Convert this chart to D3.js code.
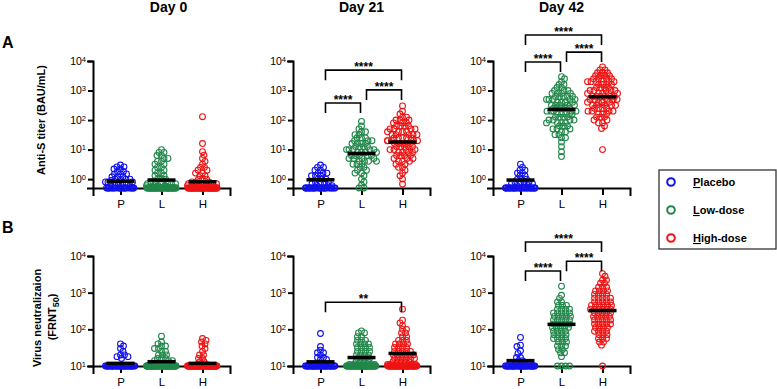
<!DOCTYPE html>
<html lang="en">
<head>
<meta charset="UTF-8">
<script src="https://cdn.jsdelivr.net/npm/d3@7"></script>
<title>Anti-S titer and virus neutralization</title>
<style>
  body { margin: 0; background: #fff; }
  text { font-family: Arial, "Liberation Sans", sans-serif; fill: #000; }
</style>
</head>
<body>
<script>
    var days = ["Day 0", "Day 21", "Day 42"];
    var groups = ["P", "L", "H"];
    var groupNames = ["Placebo", "Low-dose", "High-dose"];
    var colors = ["#1212ee", "#22874a", "#ee1414"];
    var ticksA = [1, 10, 100, 1000, 10000];
    var ticksB = [10, 100, 1000, 10000];

    // anti-S titer (BAU/mL): [titer, number of subjects]
    var a0P = [[3.0,1],[2.6,2],[2.2,2],[1.8,2],[1.5,3],[1.2,3],[1.0,3],[0.9,2],[0.8,3],[0.7,3],[0.6,3],[0.5,22]];
    var a0L = [[10,1],[8,2],[6.3,2],[5,2],[4,2],[3.2,2],[2.5,2],[2.0,2],[1.6,2],[1.3,2],[1.0,3],[0.8,3],[0.7,4],[0.6,5],[0.5,45]];
    var a0H = [[130,1],[16,1],[8.5,1],[6.5,1],[5,1],[4,1],[3.2,1],[2.5,2],[2.0,2],[1.6,2],[1.3,2],[1.0,3],[0.8,3],[0.7,4],[0.6,5],[0.5,50]];
    var a21P = [[3.0,1],[2.5,2],[2.0,2],[1.6,3],[1.3,3],[1.0,3],[0.8,2],[0.7,3],[0.6,3],[0.5,25]];
    var a21L = [[90,1],[63,1],[50,1],[40,2],[32,2],[25,3],[20,3],[16,4],[12.6,4],[10,5],[8,5],[6.3,5],[5,4],[4,4],[3.2,3],[2.5,2],[2,2],[1.6,2],[1.3,1],[1,1],[0.8,1],[0.63,1],[0.5,2]];
    var a21H = [[300,1],[200,1],[160,1],[126,2],[100,3],[80,3],[63,4],[50,4],[40,4],[32,5],[25,5],[20,5],[16,5],[12.6,5],[10,4],[8,4],[6.3,4],[5,3],[4,3],[3.2,2],[2.5,2],[2,1],[1.6,1],[1.3,1],[1,1],[0.68,1]];
    var a42P = [[3.2,1],[2.5,1],[2.0,2],[1.6,2],[1.3,2],[1.0,3],[0.8,3],[0.7,3],[0.6,3],[0.5,28]];
    var a42L = [[2950,1],[2500,1],[2000,1],[1600,2],[1260,2],[1000,3],[800,4],[630,5],[500,5],[400,5],[316,5],[250,5],[200,5],[160,5],[126,4],[100,4],[80,4],[63,3],[50,3],[40,2],[32,2],[25,2],[18,1],[12.6,1],[8.5,1],[5.8,1]];
    var a42H = [[6300,1],[5000,2],[4000,3],[3160,4],[2500,5],[2000,5],[1600,4],[1260,4],[1000,5],[800,5],[630,6],[500,5],[400,5],[316,5],[250,4],[200,4],[160,3],[126,3],[100,2],[80,2],[63,1],[52,1],[10,1]];

    // virus neutralization (FRNT50)
    var b0P = [[40,1],[35,1],[30,1],[25,1],[20,2],[18,2],[16,1],[10,35]];
    var b0L = [[65,1],[45,1],[40,1],[35,2],[30,2],[25,2],[20,3],[16,3],[14,3],[12,3],[10,60]];
    var b0H = [[56,1],[50,1],[45,1],[40,1],[35,1],[30,1],[25,1],[20,2],[16,2],[13,2],[11,2],[10,60]];
    var b21P = [[77,1],[34,1],[27,1],[23,2],[20,1],[17,2],[15,2],[12,2],[10,35]];
    var b21L = [[91,1],[80,2],[63,2],[50,3],[40,4],[32,4],[25,4],[20,4],[16,4],[13,4],[11,4],[10,50]];
    var b21H = [[355,1],[178,1],[150,1],[126,1],[100,2],[80,2],[63,2],[50,3],[40,4],[32,4],[25,5],[20,6],[16,6],[13,5],[11,4],[10,45]];
    var b42P = [[60,1],[37,1],[34,1],[26,1],[22,1],[17,2],[14,2],[12,3],[10,35]];
    var b42L = [[1500,1],[850,1],[700,1],[560,2],[450,3],[355,4],[280,5],[225,5],[180,5],[140,5],[112,5],[89,4],[71,4],[56,4],[45,3],[35,3],[28,2],[23,2],[18,1],[10,4]];
    var b42H = [[3300,1],[2800,1],[2200,2],[1800,2],[1400,3],[1120,4],[900,4],[710,5],[560,5],[450,6],[355,6],[280,5],[225,5],[180,5],[140,5],[112,4],[89,4],[71,3],[56,3],[45,2],[37,1],[10,1]];

    // geometric means per group (P, L, H)
    var meanA0 = [0.85, 0.93, 0.81];
    var meanA21 = [0.95, 7.4, 18];
    var meanA42 = [0.93, 230, 615];
    var meanB0 = [11.8, 13.1, 11.8];
    var meanB21 = [13, 17, 22];
    var meanB42 = [14, 137, 325];

    // significance: [from, to, label, bracket height in data units]
    var sigA21 = [["P","H","****",4900],["P","L","****",380],["L","H","****",1050]];
    var sigA42 = [["P","H","****",76000],["P","L","****",9300],["L","H","****",20000]];
    var sigB21 = [["P","H","**",550]];
    var sigB42 = [["P","H","****",24000],["P","L","****",3900],["L","H","****",7200]];

    var rows = [
        {floor: 0.5, ticks: ticksA, top: 61, bottom: 188,
         data: [[a0P, a0L, a0H], [a21P, a21L, a21H], [a42P, a42L, a42H]],
         means: [meanA0, meanA21, meanA42], sigs: [[], sigA21, sigA42]},
        {floor: 10, ticks: ticksB, top: 256, bottom: 366,
         data: [[b0P, b0L, b0H], [b21P, b21L, b21H], [b42P, b42L, b42H]],
         means: [meanB0, meanB21, meanB42], sigs: [[], sigB21, sigB42]}
    ];

    var svg = d3.select("body").append("svg")
        .attr("width", 777)
        .attr("height", 389);

    var gap = 3.6, maxHalf = 15;

    function swarm(bins, cx, y) {
        var vals = [];
        bins.forEach(function (b) { for (var k = 0; k < b[1]; k++) vals.push(b[0]); });
        vals.sort(function (a, b) { return b - a; });
        var placed = [], over = 0;
        vals.forEach(function (v, i) {
            var py = y(v), px = null;
            for (var o = 0; o <= maxHalf && px === null; o += 0.5) {
                var cands = (i % 2) ? [o, -o] : [-o, o];
                for (var c of cands) {
                    var ok = placed.every(function (p) {
                        return (p[0] - c) * (p[0] - c) + (p[1] - py) * (p[1] - py) >= gap * gap;
                    });
                    if (ok) { px = c; break; }
                }
            }
            if (px === null) {
                px = -maxHalf + ((over * 0.618034) % 1) * 2 * maxHalf;
                over++;
            }
            placed.push([px, py]);
        });
        return placed.map(function (p) { return [cx + p[0], p[1]]; });
    }

    rows.forEach(function (row, r) {
        var y = d3.scaleLog().domain([row.floor, 10000]).range([row.bottom, row.top]);
        days.forEach(function (day, c) {
            var ax = 93 + 200 * c;
            var x = d3.scalePoint().domain(groups).range([ax, ax + 137]).padding(0.67);
            var g = svg.append("g");

            var yAxis = g.append("g")
                .attr("transform", "translate(" + ax + ",0)")
                .call(d3.axisLeft(y).tickValues(row.ticks).tickSizeOuter(0).tickSize(5).tickPadding(2));
            yAxis.selectAll("text").each(function (d) {
                var t = d3.select(this).text("10").attr("font-size", 10.5).attr("fill", "#000");
                t.append("tspan").attr("dy", "-0.45em").attr("font-size", 7.5)
                    .text(Math.round(Math.log10(d)));
            });

            var xAxis = g.append("g")
                .attr("transform", "translate(0," + row.bottom + ")")
                .call(d3.axisBottom(x).tickSizeOuter(0).tickSize(7).tickPadding(5));
            xAxis.selectAll("text").attr("font-size", 11.5).attr("fill", "#000");

            g.selectAll(".domain, .tick line").attr("stroke", "#000").attr("stroke-width", 2);
            g.selectAll(".domain").attr("stroke-linecap", "square");

            groups.forEach(function (k, i) {
                var pts = swarm(row.data[c][i], x(k), y);
                g.append("g").selectAll("circle")
                    .data(pts)
                    .enter()
                    .append("circle")
                    .attr("cx", function (d) { return d[0]; })
                    .attr("cy", function (d) { return d[1]; })
                    .attr("r", 2.9)
                    .attr("fill", "none")
                    .attr("stroke", colors[i])
                    .attr("stroke-width", 1.1);
            });

            g.selectAll(".mean")
                .data(row.means[c])
                .enter()
                .append("line")
                .attr("x1", function (d, i) { return x(groups[i]) - 14; })
                .attr("x2", function (d, i) { return x(groups[i]) + 14; })
                .attr("y1", function (d) { return y(d); })
                .attr("y2", function (d) { return y(d); })
                .attr("stroke", "#000")
                .attr("stroke-width", 3.5);

            row.sigs[c].forEach(function (s) {
                var x1 = x(s[0]) + 5, x2 = x(s[1]) - 1, yt = y(s[3]);
                g.append("path")
                    .attr("d", "M" + x1 + "," + (yt + 10) + "V" + yt + "H" + x2 + "V" + (yt + 10))
                    .attr("fill", "none")
                    .attr("stroke", "#000")
                    .attr("stroke-width", 1.6);
                g.append("text")
                    .attr("x", (x1 + x2) / 2)
                    .attr("y", yt + 1)
                    .attr("text-anchor", "middle")
                    .attr("font-size", 12)
                    .attr("font-weight", "bold")
                    .text(s[2]);
            });

            if (r === 0) {
                svg.append("text")
                    .attr("x", x("L") + (c === 0 ? 7 : 0))
                    .attr("y", 12)
                    .attr("text-anchor", "middle")
                    .attr("font-size", 14)
                    .attr("font-weight", "bold")
                    .text(day);
            }
        });
    });

    svg.append("text").attr("x", 2).attr("y", 48)
        .attr("font-size", 16).attr("font-weight", "bold").text("A");
    svg.append("text").attr("x", 2).attr("y", 233)
        .attr("font-size", 16).attr("font-weight", "bold").text("B");

    svg.append("text")
        .attr("transform", "translate(45,120) rotate(-90)")
        .attr("text-anchor", "middle")
        .attr("font-size", 11)
        .attr("font-weight", "bold")
        .text("Anti-S titer (BAU/mL)");

    svg.append("text")
        .attr("transform", "translate(41,318) rotate(-90)")
        .attr("text-anchor", "middle")
        .attr("font-size", 11)
        .attr("font-weight", "bold")
        .text("Virus neutralizaion");
    var frnt = svg.append("text")
        .attr("transform", "translate(56,317) rotate(-90)")
        .attr("text-anchor", "middle")
        .attr("font-size", 11)
        .attr("font-weight", "bold");
    frnt.append("tspan").text("(FRNT");
    frnt.append("tspan").attr("dy", 3).attr("font-size", 9).text("50");
    frnt.append("tspan").attr("dy", -3).text(")");

    // legend
    var leg = svg.append("g");
    leg.append("rect")
        .attr("x", 659).attr("y", 170)
        .attr("width", 117).attr("height", 79)
        .attr("fill", "none")
        .attr("stroke", "#333")
        .attr("stroke-width", 1.3);
    groupNames.forEach(function (name, i) {
        var cy = 182 + i * 28;
        leg.append("circle")
            .attr("cx", 671).attr("cy", cy).attr("r", 3.8)
            .attr("fill", "none").attr("stroke", colors[i]).attr("stroke-width", 2);
        var t = leg.append("text")
            .attr("x", 693).attr("y", cy + 4)
            .attr("font-size", 11).attr("font-weight", "bold");
        t.append("tspan").attr("text-decoration", "underline").text(name[0]);
        t.append("tspan").text(name.slice(1));
    });
</script>
</body>
</html>
